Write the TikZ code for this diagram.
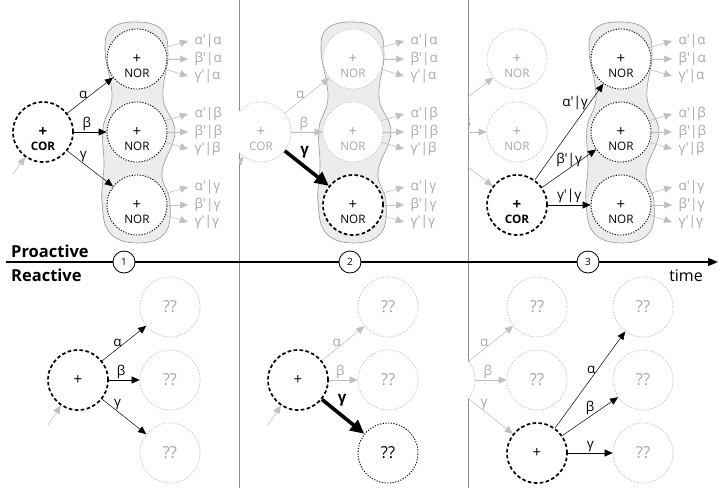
\documentclass[tikz,border=0pt]{standalone}
\usepackage{fontspec}
\setmainfont{Open Sans}
\usetikzlibrary{arrows.meta}
\definecolor{fadeline}{RGB}{192,192,192}
\definecolor{fadetext}{RGB}{168,168,168}
\definecolor{blobfill}{RGB}{236,236,236}
\definecolor{blobline}{RGB}{150,150,150}
\definecolor{panelline}{RGB}{140,140,140}
\newcommand\pr{\textquotesingle}
\newcommand\plus{{\fontsize{15}{14}\selectfont +}}
\newcommand\twoline[1]{\phantom{#1}\\\plus\\#1}
\newcommand\unitfont{\fontsize{11.7}{14}\selectfont}
\newcommand\lblfont{\fontsize{13.5}{15}\selectfont}
\tikzset{
  unit/.style={circle, minimum size=60pt, inner sep=0pt, align=center, fill=white, font=\unitfont},
  cor/.style={unit, draw, line width=1.7pt, dash pattern=on 3.6pt off 2.4pt},
  nor/.style={unit, draw, line width=0.9pt, dash pattern=on 1.2pt off 1.5pt},
  ghost/.style={unit, draw=fadeline, text=fadetext, line width=0.7pt, dash pattern=on 1.5pt off 1.5pt},
  unk/.style={font=\fontsize{16.5}{18}\selectfont},
  tip/.style={-{Triangle[length=8pt,width=7pt]}, line width=0.5pt},
  fadetip/.style={tip, draw=fadeline, fill=fadeline},
  bigtip/.style={-{Triangle[length=14pt,width=13pt]}, line width=3.6pt},
  lbl/.style={font=\lblfont, inner sep=1.5pt},
  fadelbl/.style={lbl, text=fadetext},
  boldlbl/.style={font=\fontsize{15}{17}\selectfont\bfseries, inner sep=1.5pt},
  outlbl/.style={lbl, text=fadetext, inner xsep=6.5pt, anchor=west},
  blob/.style={fill=blobfill, draw=blobline, line width=0.6pt},
  stepmark/.style={circle, draw, fill=white, line width=0.8pt, minimum size=22pt, inner sep=0pt, font=\fontsize{10}{12}\selectfont},
  axis/.style={-{Triangle[length=10pt,width=8pt]}, line width=1.3pt}
}
\newcommand\blob[1]{\draw[blob, shift={(#1,0)}] plot[smooth cycle, tension=0.7] coordinates {(1,22) (-25,28) (-32,50) (-25,97) (-34,128) (-33,165) (-35,202) (-27,233) (1,243) (28,233) (33,202) (25,172) (38,132) (26,98) (31,55) (25,30)};}
\newcommand\fan[2]{%
  \foreach \cy/\cn [count=\r] in {59/α,132/β,205/γ}{%
    \foreach \dy/\on/\ang [count=\k] in {-18/α/22,0/β/0,17/γ/-20}{%
      \node[outlbl] (o#1\r\k) at (#2+51,\cy+\dy) {\on\pr|\cn};
      \draw[fadetip] (n#1\r.\ang) -- (o#1\r\k.west);
    }}}
\begin{document}
\begin{tikzpicture}[x=1pt, y=-1pt]
\useasboundingbox (0,0) rectangle (720,492);
\draw[panelline] (239,0) -- (239,488);
\draw[panelline] (468,0) -- (468,488);

\blob{137}
\node[cor, font=\unitfont\bfseries] (c1) at (43,132) {\twoline{COR}};
\node[nor] (n11) at (137,59) {\twoline{NOR}};
\node[nor] (n12) at (137,132) {\twoline{NOR}};
\node[nor] (n13) at (137,205) {\twoline{NOR}};
\draw[tip] (c1) -- node[lbl, pos=0.35, above] (l11) {α} (n11);
\draw[tip] (c1) -- node[lbl, pos=0.4, above] (l12) {β} (n12);
\draw[tip] (c1) -- node[lbl, pos=0.35, above] (l13) {γ} (n13);
\coordinate (i1) at (13,174);
\draw[fadetip] (i1) -- (c1);
\fan{1}{137}

\begin{scope}
\clip (239,0) rectangle (468,250);
\blob{353}
\node[ghost] (c2) at (261,132) {\twoline{COR}};
\node[ghost] (n21) at (353,59) {\twoline{NOR}};
\node[ghost] (n22) at (353,132) {\twoline{NOR}};
\node[cor] (n23) at (353,205) {\twoline{NOR}};
\draw[fadetip] (c2) -- node[fadelbl, pos=0.35, above] (l21) {α} (n21);
\draw[fadetip] (c2) -- node[fadelbl, pos=0.4, above] (l22) {β} (n22);
\draw[bigtip] (c2) -- node[boldlbl, pos=0.45, above=5pt] (l23) {γ} (n23);
\coordinate (i2) at (231,174);
\draw[fadetip] (i2) -- (c2);
\fan{2}{353}
\end{scope}

\begin{scope}
\clip (468,0) rectangle (720,250);
\blob{621}
\node[ghost] (c3g) at (423,132) {};
\node[ghost] (g31) at (517,59) {\twoline{NOR}};
\node[ghost] (g32) at (517,132) {\twoline{NOR}};
\node[cor, font=\unitfont\bfseries] (c3) at (517,205) {\twoline{COR}};
\draw[fadetip] (c3g) -- node[fadelbl, pos=0.35, above] (l3g1) {α} (g31);
\draw[fadetip] (c3g) -- node[fadelbl, pos=0.4, above] (l3g2) {β} (g32);
\draw[fadetip] (c3g) -- node[fadelbl, pos=0.35, above] (l3g3) {γ} (c3);
\node[nor] (n31) at (621,59) {\twoline{NOR}};
\node[nor] (n32) at (621,132) {\twoline{NOR}};
\node[nor] (n33) at (621,205) {\twoline{NOR}};
\draw[tip] (c3) -- node[lbl, pos=0.8, left] (l31) {α\pr|γ} (n31);
\draw[tip] (c3) -- node[lbl, pos=0.5, above] (l32) {β\pr|γ} (n32);
\draw[tip] (c3) -- node[lbl, pos=0.5, above] (l33) {γ\pr|γ} (n33);
\fan{3}{621}
\end{scope}

\coordinate (t0) at (6,262);
\coordinate (t1) at (718,262);
\draw[axis] (t0) -- (t1);
\node[stepmark] (s1) at (124,262) {1};
\node[stepmark] (s2) at (350,262) {2};
\node[stepmark] (s3) at (588,262) {3};
\node[anchor=base west, inner sep=0pt, font=\fontsize{16.5}{18}\selectfont\bfseries] (pro) at (11,257) {Proactive};
\node[anchor=base west, inner sep=0pt, font=\fontsize{16.5}{18}\selectfont\bfseries] (rea) at (11,281) {Reactive};
\node[anchor=base east, inner sep=0pt, font=\fontsize{16}{18}\selectfont] (time) at (703,281) {time};

\node[cor] (b1) at (78,380) {\plus};
\node[ghost, unk] (q11) at (170,307) {??};
\node[ghost, unk] (q12) at (170,380) {??};
\node[ghost, unk] (q13) at (170,453) {??};
\draw[tip] (b1) -- node[lbl, pos=0.35, above] (m11) {α} (q11);
\draw[tip] (b1) -- node[lbl, pos=0.4, above] (m12) {β} (q12);
\draw[tip] (b1) -- node[lbl, pos=0.35, above] (m13) {γ} (q13);
\coordinate (j1) at (48,425);
\draw[fadetip] (j1) -- (b1);

\begin{scope}
\clip (239,250) rectangle (468,492);
\node[cor] (b2) at (298,380) {\plus};
\node[ghost, unk] (q21) at (388,307) {??};
\node[ghost, unk] (q22) at (388,380) {??};
\node[nor, unk] (q23) at (388,453) {??};
\draw[fadetip] (b2) -- node[fadelbl, pos=0.35, above] (m21) {α} (q21);
\draw[fadetip] (b2) -- node[fadelbl, pos=0.4, above] (m22) {β} (q22);
\draw[bigtip] (b2) -- node[boldlbl, pos=0.3, above right] (m23) {γ} (q23);
\coordinate (j2) at (268,425);
\draw[fadetip] (j2) -- (b2);
\end{scope}

\begin{scope}
\clip (468,250) rectangle (720,492);
\node[ghost] (b3g) at (445,380) {};
\node[ghost, unk] (q31) at (537,307) {??};
\node[ghost, unk] (q32) at (537,380) {??};
\node[cor] (b3) at (537,453) {\plus};
\draw[fadetip] (b3g) -- node[fadelbl, pos=0.35, above] (m31) {α} (q31);
\draw[fadetip] (b3g) -- node[fadelbl, pos=0.4, above] (m32) {β} (q32);
\draw[fadetip] (b3g) -- node[fadelbl, pos=0.35, above] (m33) {γ} (b3);
\node[ghost, unk] (q41) at (643,307) {??};
\node[ghost, unk] (q42) at (643,380) {??};
\node[ghost, unk] (q43) at (643,453) {??};
\draw[tip] (b3) -- node[lbl, pos=0.6, left] (m41) {α} (q41);
\draw[tip] (b3) -- node[lbl, pos=0.5, above] (m42) {β} (q42);
\draw[tip] (b3) -- node[lbl, pos=0.5, above] (m43) {γ} (q43);
\end{scope}
\end{tikzpicture}
\end{document}
